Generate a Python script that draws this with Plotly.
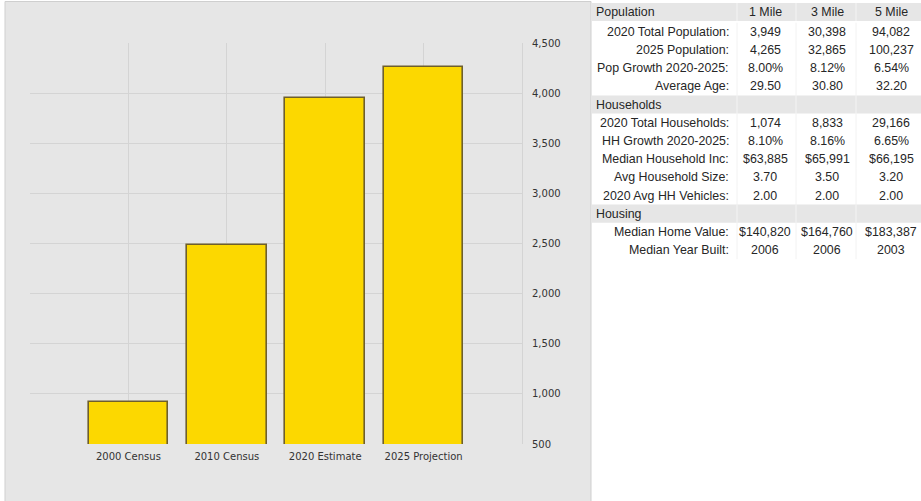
import plotly.graph_objects as go

# ---- chart data ----
categories = ["2000 Census", "2010 Census", "2020 Estimate", "2025 Projection"]
population = [917, 2490, 3949, 4265]
y_ticks = [500, 1000, 1500, 2000, 2500, 3000, 3500, 4000, 4500]

# ---- table data ----
col_headers = ["1 Mile", "3 Mile", "5 Mile"]
pop_labels = ["2020 Total Population:", "2025 Population:", "Pop Growth 2020-2025:", "Average Age:"]
pop_values = [["3,949", "30,398", "94,082"],
              ["4,265", "32,865", "100,237"],
              ["8.00%", "8.12%", "6.54%"],
              ["29.50", "30.80", "32.20"]]
hh_labels = ["2020 Total Households:", "HH Growth 2020-2025:", "Median Household Inc:",
             "Avg Household Size:", "2020 Avg HH Vehicles:"]
hh_values = [["1,074", "8,833", "29,166"],
             ["8.10%", "8.16%", "6.65%"],
             ["$63,885", "$65,991", "$66,195"],
             ["3.70", "3.50", "3.20"],
             ["2.00", "2.00", "2.00"]]
housing_labels = ["Median Home Value:", "Median Year Built:"]
housing_values = [["$140,820", "$164,760", "$183,387"],
                  ["2006", "2006", "2003"]]

W, H = 921, 501
L, R, T, B = 30, 522, 43, 444
PW, PH = R - L, B - T


def px(x):
    return (x - L) / PW


def py(y):
    return (B - y) / PH


fig = go.Figure()
fig.add_trace(go.Bar(
    x=[1, 2, 3, 4], y=population, width=0.81,
    marker=dict(color="#FCD800", line=dict(color="#6e5f2c", width=1.6)),
    hoverinfo="skip",
))

shapes = []
# gray panel
shapes.append(dict(type="rect", xref="paper", yref="paper", layer="below",
                   x0=px(5), x1=px(591), y0=py(1.5), y1=py(502),
                   fillcolor="#e6e6e6", line=dict(color="#cfcfcf", width=1)))

annotations = []
FONT = dict(family="Liberation Sans, Arial, sans-serif", size=12.4, color="#262626")
label_x = 731
col_x = [765, 827, 891]
row_h = 18.2
y0 = 12

rows = []
rows.append(("header", "Population", col_headers))
for lab, vals in zip(pop_labels, pop_values):
    rows.append(("row", lab, vals))
rows.append(("header", "Households", ["", "", ""]))
for lab, vals in zip(hh_labels, hh_values):
    rows.append(("row", lab, vals))
rows.append(("header", "Housing", ["", "", ""]))
for lab, vals in zip(housing_labels, housing_values):
    rows.append(("row", lab, vals))

col_bounds = [737, 796, 856]
for i, (kind, lab, vals) in enumerate(rows):
    yc = y0 + row_h * i + (1.5 if i > 0 else 0)
    top, bot = yc - row_h / 2, yc + row_h / 2
    if kind == "header":
        shapes.append(dict(type="rect", xref="paper", yref="paper", layer="below",
                           x0=px(591), x1=px(930), y0=py(top), y1=py(bot),
                           fillcolor="#e6e6e6", line=dict(width=0)))
        for cb in col_bounds:
            shapes.append(dict(type="line", xref="paper", yref="paper", layer="below",
                               x0=px(cb), x1=px(cb), y0=py(top), y1=py(bot),
                               line=dict(color="#f4f4f4", width=1)))
        annotations.append(dict(text=lab, x=px(594), y=py(yc), xref="paper", yref="paper",
                                xanchor="left", yanchor="middle", showarrow=False, font=FONT))
    else:
        for cb in col_bounds:
            shapes.append(dict(type="line", xref="paper", yref="paper", layer="below",
                               x0=px(cb), x1=px(cb), y0=py(top), y1=py(bot),
                               line=dict(color="#f2f2f2", width=1)))
        annotations.append(dict(text=lab, x=px(label_x), y=py(yc), xref="paper", yref="paper",
                                xanchor="right", yanchor="middle", showarrow=False, font=FONT))
    for cx, v in zip(col_x, vals):
        if v:
            annotations.append(dict(text=v, x=px(cx), y=py(yc), xref="paper", yref="paper",
                                    xanchor="center", yanchor="middle", showarrow=False, font=FONT))

AXFONT = dict(family="DejaVu Sans, Verdana, sans-serif", size=10, color="#333333")
fig.update_layout(
    width=W, height=H,
    margin=dict(l=L, r=W - R, t=T, b=H - B, pad=0),
    paper_bgcolor="white", plot_bgcolor="white",
    showlegend=False,
    bargap=0,
    xaxis=dict(range=[0, 5], tickvals=[1, 2, 3, 4], ticktext=categories,
               showgrid=True, gridcolor="#d4d4d4", gridwidth=1, zeroline=False,
               ticks="", tickfont=AXFONT, ticklabelstandoff=5, fixedrange=True),
    yaxis=dict(range=[500, 4500], tickvals=y_ticks, side="right",
               tickformat=",d", showgrid=True, gridcolor="#d4d4d4", gridwidth=1,
               zeroline=False, ticks="", tickfont=AXFONT, ticklabelstandoff=7,
               showline=True, linecolor="#d4d4d4", linewidth=1, fixedrange=True),
    shapes=shapes,
    annotations=annotations,
)

fig.write_html("out.html")
